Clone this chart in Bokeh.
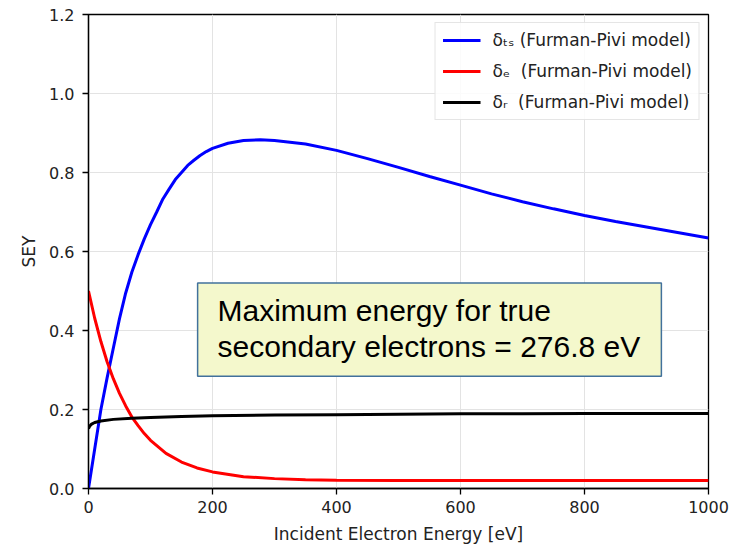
from bokeh.plotting import figure
from bokeh.models import Range1d, Legend, LegendItem, BoxAnnotation, Label, FixedTicker
from bokeh.embed import file_html
from bokeh.resources import INLINE

# ---- data ----
ts_energy = [0, 10, 20, 30, 40, 50, 60, 70, 80, 90, 100, 110, 120, 130, 140, 150, 160, 170,
             180, 190, 200, 225, 250, 277, 300, 350, 400, 450, 500, 550, 600, 650, 700, 750,
             800, 850, 900, 950, 1000]
ts_sey = [0.0, 0.10, 0.20, 0.28, 0.355, 0.43, 0.495, 0.548, 0.592, 0.632, 0.668, 0.70, 0.733,
          0.758, 0.782, 0.80, 0.818, 0.831, 0.843, 0.853, 0.861, 0.874, 0.881, 0.883, 0.881,
          0.872, 0.856, 0.835, 0.813, 0.79, 0.768, 0.746, 0.726, 0.708, 0.691, 0.676, 0.662,
          0.648, 0.634]

e_energy = [0, 10, 20, 30, 40, 50, 60, 70, 80, 90, 100, 125, 150, 175, 200, 250, 300, 350,
            400, 500, 600, 700, 800, 900, 1000]
e_sey = [0.5, 0.431, 0.372, 0.321, 0.278, 0.241, 0.209, 0.181, 0.159, 0.139, 0.122, 0.089,
         0.067, 0.052, 0.042, 0.030, 0.025, 0.022, 0.021, 0.020, 0.020, 0.020, 0.020, 0.020, 0.020]

r_energy = [0, 2, 5, 10, 20, 40, 70, 100, 150, 200, 300, 400, 500, 600, 700, 800, 900, 1000]
r_sey = [0.152, 0.158, 0.163, 0.167, 0.171, 0.175, 0.178, 0.180, 0.182, 0.184, 0.186, 0.187,
         0.188, 0.189, 0.189, 0.190, 0.190, 0.190]

x_ticks = [0, 200, 400, 600, 800, 1000]
y_ticks = [0.0, 0.2, 0.4, 0.6, 0.8, 1.0, 1.2]
y_tick_labels = ["0.0", "0.2", "0.4", "0.6", "0.8", "1.0", "1.2"]

series_labels = ["δₜₛ (Furman-Pivi model)", "δₑ  (Furman-Pivi model)", "δᵣ  (Furman-Pivi model)"]
series_colors = ["#0000ff", "#ff0000", "#000000"]

x_label = "Incident Electron Energy [eV]"
y_label = "SEY"
note_lines = ["Maximum energy for true", "secondary electrons = 276.8 eV"]

# ---- figure ----
FONT = "DejaVu Sans"
p = figure(width=730, height=548, output_backend="svg", toolbar_location=None,
           x_range=Range1d(0, 1000), y_range=Range1d(0, 1.2),
           min_border_left=88, min_border_right=22, min_border_top=14, min_border_bottom=60,
           background_fill_color="white", border_fill_color="white")

p.outline_line_color = "black"
p.outline_line_width = 1.3

for ax in (p.xaxis[0], p.yaxis[0]):
    ax.axis_line_color = "black"
    ax.axis_line_width = 1.3
    ax.major_tick_line_color = "black"
    ax.major_tick_line_width = 1.3
    ax.major_tick_out = 6
    ax.major_tick_in = 0
    ax.minor_tick_line_color = None
    ax.major_label_text_font = FONT
    ax.major_label_text_font_size = "16px"
    ax.major_label_text_color = "#222222"
    ax.axis_label_text_font = FONT
    ax.axis_label_text_font_size = "17px"
    ax.axis_label_text_font_style = "normal"
    ax.axis_label_text_color = "#222222"

p.xaxis.major_label_standoff = 6
p.yaxis.major_label_standoff = 8

p.xaxis.ticker = FixedTicker(ticks=x_ticks)
p.yaxis.ticker = FixedTicker(ticks=y_ticks)
p.yaxis.major_label_overrides = {t: l for t, l in zip(y_ticks, y_tick_labels)}
p.xaxis.axis_label = x_label
p.yaxis.axis_label = y_label
p.xaxis.axis_label_standoff = 8
p.yaxis.axis_label_standoff = 7

p.xgrid.ticker = FixedTicker(ticks=x_ticks)
p.ygrid.ticker = FixedTicker(ticks=y_ticks)
p.grid.grid_line_color = "#e3e3e3"
p.grid.grid_line_width = 1

# annotation box
box = BoxAnnotation(left=176, right=924, bottom=0.284, top=0.52,
                    fill_color="#f4f8cc", fill_alpha=1.0,
                    line_color="#41719c", line_alpha=1.0, line_width=1.5, level="underlay")
p.add_layout(box)

r1 = p.line(ts_energy, ts_sey, line_color=series_colors[0], line_width=3)
r2 = p.line(e_energy, e_sey, line_color=series_colors[1], line_width=3)
r3 = p.line(r_energy, r_sey, line_color=series_colors[2], line_width=3)

legend = Legend(items=[LegendItem(label=series_labels[0], renderers=[r1]),
                       LegendItem(label=series_labels[1], renderers=[r2]),
                       LegendItem(label=series_labels[2], renderers=[r3])],
                location="top_right")
legend.label_text_font = FONT
legend.label_text_font_size = "17px"
legend.label_text_color = "#222222"
legend.glyph_width = 38
legend.glyph_height = 20
legend.label_height = 20
legend.spacing = 11
legend.padding = 7
legend.margin = 8
legend.label_standoff = 12
legend.border_line_color = "#cccccc"
legend.border_line_width = 1
legend.background_fill_color = "white"
legend.background_fill_alpha = 0.85
p.add_layout(legend)

for txt, yv in zip(note_lines, [0.45, 0.36]):
    p.add_layout(Label(x=208, y=yv, text=txt, text_font="Liberation Sans",
                       text_font_size="30px", text_color="#000000",
                       text_baseline="middle", text_align="left"))

open("out.html", "w").write(file_html(p, INLINE))
